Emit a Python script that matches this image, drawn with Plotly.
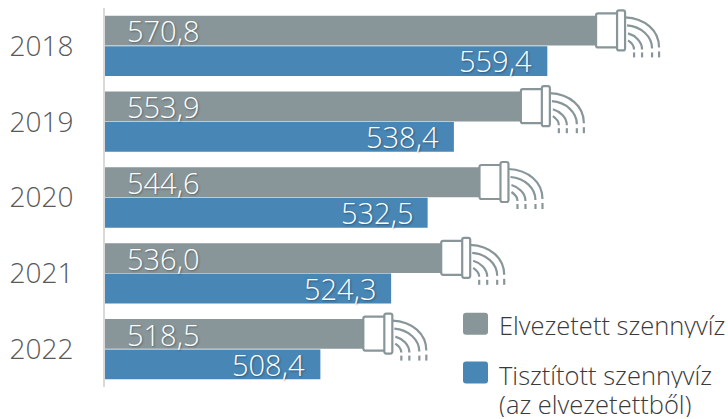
import plotly.graph_objects as go

years = ["2018", "2019", "2020", "2021", "2022"]
elvezetett = [570.8, 553.9, 544.6, 536.0, 518.5]
tisztitott = [559.4, 538.4, 532.5, 524.3, 508.4]
GRAY = "#88969A"
BLUE = "#4786B5"
FONT = "Open Sans"
AXIS_MIN = 460
AXIS_MAX = 600
pos = list(range(len(years)))

def fmt(v):
    return f"{v:.1f}".replace(".", ",")

fig = go.Figure()
fig.add_bar(name="Elvezetett szennyvíz", y=pos, x=[v - AXIS_MIN for v in elvezetett], base=AXIS_MIN,
            orientation="h", marker=dict(color=GRAY, line_width=0), showlegend=False, hoverinfo="skip")
fig.add_bar(name="Tisztított szennyvíz", y=pos, x=[v - AXIS_MIN for v in tisztitott], base=AXIS_MIN,
            orientation="h", marker=dict(color=BLUE, line_width=0), showlegend=False, hoverinfo="skip")

shapes = []
annots = []

def px_path(year, val, d, width=2.2, fill="rgba(0,0,0,0)"):
    return dict(type="path", xref="x", yref="y", xsizemode="pixel", ysizemode="pixel",
                xanchor=val, yanchor=year, path=d, fillcolor=fill,
                line=dict(color=GRAY, width=width), layer="above")

for y, g, b in zip(pos, elvezetett, tisztitott):
    c = -15.5
    def P(dx, dy):
        return f"{dx + 1},{-(dy + c)}"
    shapes.append(px_path(y, g, f"M{P(-3,-15)} Q{P(-3,-17)} {P(-1,-17)} L{P(19,-17)} L{P(19,17)} L{P(-1,17)} Q{P(-3,17)} {P(-3,15)} Z", fill="white"))
    shapes.append(px_path(y, g, f"M{P(18,-18)} Q{P(18,-20)} {P(20,-20)} L{P(24,-20)} Q{P(26,-20)} {P(26,-18)} L{P(26,18)} Q{P(26,20)} {P(24,20)} L{P(20,20)} Q{P(18,20)} {P(18,18)} Z", fill="white"))
    shapes.append(px_path(y, g, f"M{P(26,-13)} C{P(46,-12)} {P(60,0)} {P(60,17)}"))
    shapes.append(px_path(y, g, f"M{P(60,21)} L{P(60,27)}"))
    shapes.append(px_path(y, g, f"M{P(28,-5)} C{P(42,-4)} {P(53,6)} {P(53,18)}"))
    shapes.append(px_path(y, g, f"M{P(53,22)} L{P(53,27)}"))
    shapes.append(px_path(y, g, f"M{P(29,3)} C{P(36,5)} {P(43,11)} {P(43,19)}"))
    shapes.append(px_path(y, g, f"M{P(43,22)} L{P(43,27)}"))
    shapes.append(px_path(y, g, f"M{P(29,10)} C{P(32,12)} {P(35,15)} {P(35,19)}"))
    shapes.append(px_path(y, g, f"M{P(35,22)} L{P(35,27)}"))
    shadow = "1px 1px 2px rgba(0,0,0,0.35)"
    annots.append(dict(x=AXIS_MIN, y=y, xref="x", yref="y", text=fmt(g), showarrow=False, xanchor="left",
                       xshift=20, yshift=15, font=dict(family=FONT, size=29, color="white", weight=300, shadow=shadow)))
    annots.append(dict(x=b, y=y, xref="x", yref="y", text=fmt(b), showarrow=False, xanchor="right",
                       xshift=-13, yshift=-15, font=dict(family=FONT, size=29, color="white", weight=300, shadow=shadow)))

# legend
def fx(px):
    return (px - 105) / 623
def fy(px):
    return 1 - (px - 7.5) / 380
def swatch(x0, y0, x1, y1, color, r=3):
    d = (f"M{fx(x0 + r)},{fy(y0)} L{fx(x1 - r)},{fy(y0)} Q{fx(x1)},{fy(y0)} {fx(x1)},{fy(y0 + r)} "
         f"L{fx(x1)},{fy(y1 - r)} Q{fx(x1)},{fy(y1)} {fx(x1 - r)},{fy(y1)} "
         f"L{fx(x0 + r)},{fy(y1)} Q{fx(x0)},{fy(y1)} {fx(x0)},{fy(y1 - r)} "
         f"L{fx(x0)},{fy(y0 + r)} Q{fx(x0)},{fy(y0)} {fx(x0 + r)},{fy(y0)} Z")
    return dict(type="path", xref="paper", yref="paper", path=d, fillcolor=color, line=dict(color=color, width=0))
shapes.append(swatch(463, 313, 488, 335, GRAY))
shapes.append(swatch(463, 362, 488, 384, BLUE))
legend_font = dict(family=FONT, size=25.5, color="#3A3A3A", weight=300)
for text, cy in [("Elvezetett szennyvíz", 325), ("Tisztított szennyvíz", 375), ("(az elvezetettből)", 404.5)]:
    annots.append(dict(x=fx(497), y=fy(cy), xref="paper", yref="paper", xanchor="left", yanchor="middle",
                       height=27, showarrow=False, text=text, font=legend_font))

fig.update_layout(
    width=728, height=419, barmode="group", bargap=0.197, bargroupgap=0.02,
    margin=dict(l=105, r=0, t=7.5, b=31.5, autoexpand=False), plot_bgcolor="white", paper_bgcolor="white",
    shapes=shapes, annotations=annots,
    xaxis=dict(range=[AXIS_MIN, AXIS_MAX], visible=False),
    yaxis=dict(range=[4.5, -0.5], tickvals=pos, ticktext=years, showgrid=False, zeroline=False, showline=True, linecolor="#D9D9D9", linewidth=2,
               ticks="", ticklabelstandoff=24, tickfont=dict(family=FONT, size=28, color="#595959", weight=300)),
)
fig.write_html("out.html", config=dict(displayModeBar=False), post_script="document.body.style.margin='0';")
